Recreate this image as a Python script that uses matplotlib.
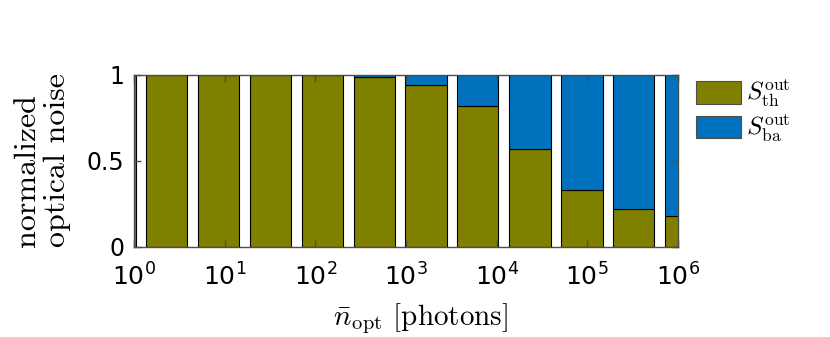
import matplotlib
matplotlib.use('Agg')
import matplotlib.pyplot as plt

# bar centres in decades (log10 of mean photon number)
log_nopt = [-0.21, 0.36, 0.93, 1.505, 2.08, 2.65, 3.22, 3.79, 4.37, 4.94, 5.51, 6.09]

# normalized noise contributions (thermal / back-action)
s_th = [1.0, 1.0, 1.0, 1.0, 1.0, 0.99, 0.942, 0.818, 0.569, 0.332, 0.218, 0.177]
s_ba = [0.0, 0.0, 0.0, 0.0, 0.0, 0.01, 0.058, 0.182, 0.431, 0.668, 0.782, 0.823]

decades = [0, 1, 2, 3, 4, 5, 6]
y_ticks = [0, 0.5, 1]
y_ticklabels = ['0', '0.5', '1']

OLIVE = '#808000'
BLUE = '#0072BD'
FRAME = '#4d4d4d'

fig = plt.figure(figsize=(8.3, 3.37), dpi=100)
ax = fig.add_axes([0.1614, 0.268, 0.6554, 0.5095])

ax.bar(log_nopt, s_th, width=0.456, color=OLIVE, edgecolor='black', linewidth=0.8,
       label=r'$S^{\rm out}_{\rm th}$')
ax.bar(log_nopt, s_ba, width=0.456, bottom=s_th, color=BLUE, edgecolor='black', linewidth=0.8,
       label=r'$S^{\rm out}_{\rm ba}$')

ax.set_xlim(0, 6)
ax.set_ylim(0, 1)

ax.set_xticks(decades)
ax.set_xticklabels([rf'$10^{{{d}}}$' for d in decades], fontsize=18)
ax.set_yticks(y_ticks)
ax.set_yticklabels(y_ticklabels, fontsize=17)
ax.tick_params(direction='in', length=5, width=1, color=FRAME, top=True, right=True)
ax.tick_params(axis='x', pad=12)
ax.tick_params(axis='y', pad=7)

for sp in ax.spines.values():
    sp.set_color(FRAME)
    sp.set_linewidth(1.0)

ax.set_xlabel(r'$\bar{n}_{\rm opt}$ [photons]', family='cmr10', math_fontfamily='cm', fontsize=21)
ax.xaxis.set_label_coords(0.526, -0.32)

ax.set_ylabel('normalized\noptical noise', family='cmr10', fontsize=23, multialignment='left',
              linespacing=1.15)
ax.yaxis.set_label_coords(-0.115, 0.505)

leg = ax.legend(loc='upper left', bbox_to_anchor=(1.015, 1.04), frameon=False,
                fontsize=18, handlelength=1.8, handleheight=1.0, labelspacing=0.15,
                handletextpad=0.2, borderaxespad=0)
for t in leg.get_texts():
    t.set_math_fontfamily('cm')
for p in leg.get_patches():
    p.set_edgecolor(FRAME)

fig.savefig('out.png', dpi=100)
